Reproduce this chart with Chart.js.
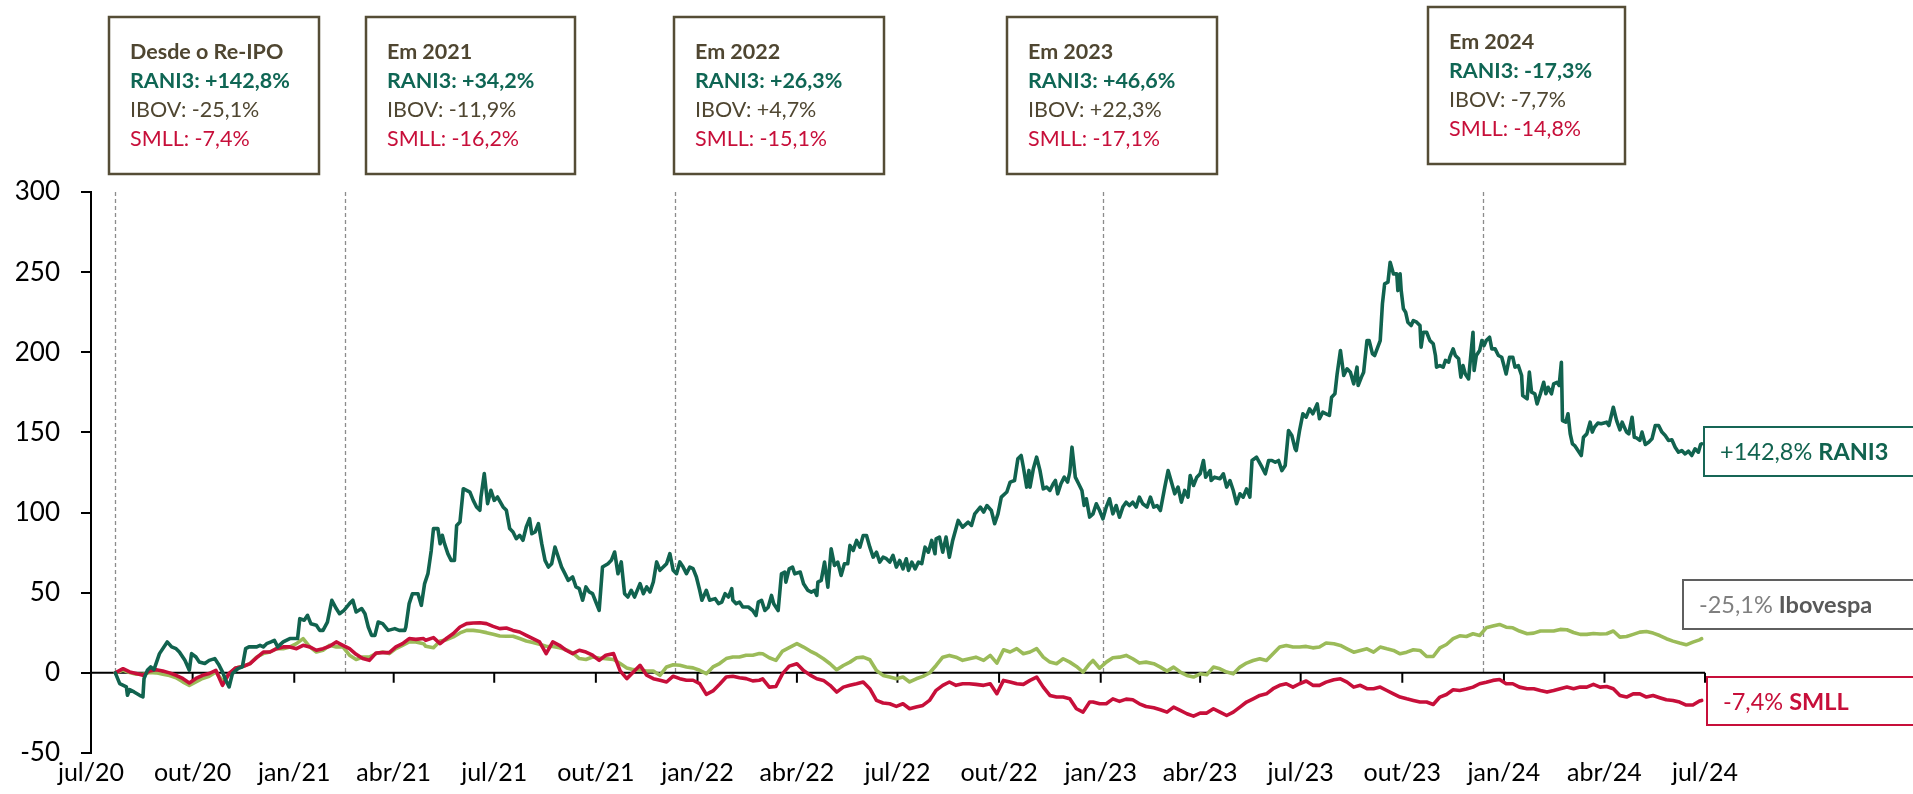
<!DOCTYPE html>
<html>
<head>
<meta charset="utf-8">
<script src="https://cdn.jsdelivr.net/npm/chart.js@4.4.1/dist/chart.umd.min.js"></script>
<style>
html,body{margin:0;padding:0;background:#ffffff;}
#wrap{width:1913px;height:794px;position:relative;}
canvas{display:block;}
</style>
</head>
<body>
<div id="wrap"><canvas id="chart" width="1913" height="794"></canvas></div>
<script>
// ---------- DATA (x = days since 2020-07-01, y = accumulated return in %) ----------
const tickLabels = ['jul/20','out/20','jan/21','abr/21','jul/21','out/21','jan/22','abr/22','jul/22',
  'out/22','jan/23','abr/23','jul/23','out/23','jan/24','abr/24','jul/24'];

const yTickValues = [-50, 0, 50, 100, 150, 200, 250, 300];

// RANI3: [day, return %]
const rani3Series = [
[22,0],[26,-6.7],[32,-8.7],[33,-14],[35,-10.5],[39,-11.9],[44,-14],[47,-15],[48,-3.6],[51,1.6],
[54,3.7],[57,2],[62,12],[69,19.3],[73,16.2],[77,15.1],[80,13],[85,7.8],[89,1.6],[91,12],
[95,9.9],[98,6.8],[103,5.8],[107,7.8],[112,8.9],[116,4.7],[119,0.6],[122,-4.6],[125,-8.8],[128,-0.5],
[133,2.6],[137,3.7],[140,15.1],[143,16.2],[150,16.2],[153,17.2],[156,16.2],[159,18.2],[163,19.3],[166,20.3],
[169,16.2],[174,19.3],[180,21.4],[187,21.4],[189,33.8],[193,32.8],[196,35.9],[199,30.7],[204,29.7],[207,26.5],
[210,26.5],[214,31.7],[218,45.3],[222,40.1],[225,36.9],[229,39],[234,43.2],[237,45.3],[240,38],[245,40.1],
[248,36.9],[251,28.6],[254,23.4],[257,23.4],[260,31.7],[264,30.7],[269,26.5],[275,27.6],[279,26.5],[284,26.5],
[285,28.6],[288,43.2],[291,49.4],[296,49.4],[299,42.1],[302,55.7],[305,61.9],[308,76.4],[310,90],[314,90],
[316,80.6],[318,85.8],[320,80.6],[323,74.4],[326,70.2],[329,70.2],[331,92],[334,94.1],[337,114.9],[340,113.9],
[343,112.8],[346,107.6],[349,103.5],[352,101.4],[353,109.7],[356,124.3],[359,105.6],[362,113.9],[365,107.6],[368,109.7],
[373,103.5],[376,101.4],[379,90],[382,87.9],[385,83.7],[388,85.8],[391,82.7],[394,91],[397,96.2],[399,86.8],
[402,87.9],[405,93.1],[408,80.6],[411,70.2],[414,66],[417,68.1],[420,78.5],[423,72.3],[426,66],[429,61.9],
[432,57.7],[436,59.8],[439,53.6],[442,52.5],[445,45.3],[448,53.6],[451,50.5],[454,49.4],[457,44.2],[460,39],
[463,66],[468,68.1],[471,70.2],[474,75.4],[477,61.9],[480,69.2],[483,49.4],[486,47.3],[489,51.5],[492,47.3],
[497,55.7],[500,49.4],[503,53.6],[506,50.5],[509,56.7],[512,69.2],[515,64],[518,66],[521,68.1],[524,74.4],
[527,64],[530,61.9],[533,69.2],[536,66],[539,61.9],[542,66],[545,65],[548,59.8],[551,51.5],[553,45.3],
[557,51.5],[560,45.3],[565,46.3],[568,43.2],[571,44.2],[574,49.4],[577,47.3],[580,52.5],[581,45.3],[584,43.2],
[587,44.2],[590,41.1],[595,41.1],[599,38.9],[602,35.8],[604,44.1],[607,45.2],[610,38.9],[613,41],[616,48.3],
[618,43.1],[622,38.9],[625,61.8],[628,62.9],[629,56.6],[632,64.9],[635,66],[637,61.8],[642,62.9],[645,55.6],
[649,51.4],[652,50.4],[655,51.4],[657,48.3],[658,56.6],[661,57.7],[664,69.1],[667,53.5],[670,77.4],[673,67],
[676,69.1],[679,60.8],[682,68.1],[685,68.1],[687,79.5],[690,76.4],[693,82.6],[696,78.4],[699,85.7],[702,85.7],
[705,78.4],[708,72.2],[711,75.3],[714,69.1],[717,72.2],[720,71.2],[723,69.1],[726,73.3],[729,66],[732,70.1],
[735,64.9],[738,71.2],[740,63.9],[743,69.1],[746,64.9],[749,69.1],[752,68.1],[755,78.4],[758,75.3],[761,82.6],
[764,74.3],[765,83.6],[768,84.7],[771,75.3],[774,84.7],[777,72.2],[780,82.6],[785,95.1],[789,90.9],[794,94],
[797,92],[800,99.2],[805,103.4],[808,100.3],[811,104.4],[815,101.3],[818,93],[821,99.2],[824,109.6],[829,112.8],
[832,119],[836,120],[839,133.5],[842,135.6],[844,128.3],[847,115.9],[849,126.3],[850,115.9],[853,127.3],[856,134.6],
[859,126.3],[862,114.8],[865,115.9],[868,113.8],[871,118],[873,120],[875,111.7],[878,118],[881,122.1],[884,119],
[886,125.2],[888,140.8],[891,122.1],[894,118],[897,113.8],[899,104.4],[901,108.6],[904,97.2],[907,99.2],[910,105.5],
[913,101.3],[916,96.1],[919,103.4],[922,108.6],[925,99.2],[928,104.4],[931,97.1],[934,103.4],[937,106.5],[940,104.4],
[943,106.5],[946,103.4],[949,109.6],[952,105.5],[956,103.4],[959,109.6],[962,103.4],[965,104.4],[968,101.3],[972,115.9],
[975,126.2],[978,119],[981,111.7],[984,115.9],[987,106.5],[990,113.8],[993,109.6],[995,123.1],[998,116.9],[1001,122.1],
[1004,124.2],[1007,132.5],[1009,122.1],[1013,126.2],[1014,120],[1017,122.1],[1022,121.1],[1025,124.2],[1028,115.9],[1031,120],
[1034,113.8],[1037,105.5],[1040,111.7],[1043,109.6],[1046,114.8],[1049,109.6],[1051,132.5],[1055,134.6],[1060,128.3],[1063,124.2],
[1066,132.5],[1069,132.5],[1072,131.4],[1075,132.5],[1078,126.2],[1081,129.4],[1084,151.2],[1087,148.1],[1090,139.8],[1091,138.7],
[1094,151.2],[1097,161.6],[1100,159.5],[1103,164.7],[1106,161.6],[1110,167.8],[1112,158.5],[1115,162.6],[1118,161.6],[1121,160.6],
[1123,172],[1126,174.1],[1128,186.5],[1131,201.1],[1134,185.5],[1137,189.7],[1140,187.6],[1143,180.3],[1146,190.7],[1147,179.3],
[1150,184.5],[1152,187.6],[1155,207.3],[1157,207.3],[1160,199],[1162,198],[1167,207.3],[1169,230.2],[1171,242.7],[1174,243.7],
[1176,256.2],[1179,248.9],[1182,248.9],[1183,238.5],[1185,248.9],[1186,238.5],[1188,227.1],[1190,225],[1192,218.8],[1195,216.7],
[1197,219.8],[1200,218.8],[1203,216.7],[1204,203.2],[1206,212.5],[1209,212.5],[1212,207.3],[1215,205.3],[1217,198],[1218,190.7],
[1221,191.7],[1224,190.7],[1226,194.9],[1229,193.8],[1230,196.9],[1233,202.1],[1235,198],[1238,195.9],[1240,184.5],[1242,191.7],
[1244,186.5],[1247,183.4],[1248,190.7],[1251,212.5],[1252,188.6],[1254,198],[1257,201.1],[1259,207.3],[1261,204.2],[1263,207.3],
[1266,209.4],[1268,202.1],[1271,202.1],[1274,198],[1277,196.9],[1279,191.7],[1281,186.5],[1284,196.9],[1287,196.9],[1289,190.7],
[1292,191.7],[1295,185.5],[1296,173],[1300,170.9],[1302,187.6],[1304,175.1],[1307,174.1],[1309,167.8],[1312,174.1],[1315,181.3],
[1317,174.1],[1319,178.2],[1322,174.1],[1324,180.3],[1327,181.3],[1329,179.3],[1331,193.8],[1332,157.4],[1335,156.4],[1337,161.6],
[1339,149.1],[1341,142.9],[1343,141.8],[1346,138.7],[1349,135.6],[1351,147],[1354,149.1],[1357,156.4],[1359,150.2],[1361,153.3],
[1364,155.8],[1367,155.4],[1372,156.4],[1374,154.3],[1378,165.7],[1381,157.4],[1384,151.6],[1386,156.4],[1390,150.2],[1392,149.1],
[1395,159.5],[1397,147],[1399,146.6],[1402,145],[1404,150.2],[1407,142.5],[1410,143.9],[1413,146],[1416,154.3],[1419,154.3],
[1422,150.2],[1425,148.1],[1428,145],[1431,145.4],[1434,140.8],[1437,137.7],[1440,138.7],[1443,136.6],[1446,138.3],[1449,135.6],
[1452,139.8],[1455,137.7],[1457,142.5],[1458,142.8]
];

// Ibovespa and SMLL share one date grid
const indexDays = [
22,29,35,41,47,53,59,65,71,77,83,89,95,101,107,113,119,125,131,138,144,150,156,162,168,174,180,186,192,198,
204,210,216,222,228,234,240,246,252,258,264,270,276,282,288,294,301,
303,310,316,322,328,334,340,346,352,358,364,370,376,382,388,394,400,406,412,418,424,430,436,442,448,454,460,466,473,479,
485,491,497,503,509,515,521,527,533,539,545,551,557,563,569,575,581,587,593,599,605,
608,614,620,626,632,639,645,651,657,663,669,675,681,687,693,699,705,711,717,723,729,735,741,747,753,759,765,771,777,783,
789,795,801,808,814,820,826,832,838,844,850,856,862,868,874,880,886,892,898,904,
907,913,919,925,931,937,943,949,955,962,968,974,980,986,992,998,1004,1010,1016,1022,1028,1034,1040,1046,1052,1058,1064,1070,1076,1082,
1088,1094,1100,1106,1112,1118,1125,1131,1137,1143,1149,1155,1161,1167,1173,1179,1185,1191,1197,1203,
1209,1215,1221,1227,1233,1239,1245,1251,1257,1263,1269,1275,1281,1287,1293,1300,1306,1312,1318,1324,
1330,1336,1342,1348,1354,1360,1366,1372,1378,1384,1390,1396,1402,1408,1414,1420,1426,1432,1438,1444,1450,1456,1458
];

const ibovValues = [
0,1.6,0.2,-0.9,-0.9,0.2,0,-0.9,-1.7,-3.1,-5.6,-7.8,-5.6,-3.5,-2.1,0.6,-5,-0.9,3.1,4.1,5.8,9.9,12,13,15.1,15.1,16.2,18.2,21.4,16.2,
13,14.1,17.2,16.2,16.2,11,8.3,9.9,9.9,12,13,12,15.1,17.2,19.3,19.3,18.2,
16.6,15.7,19.9,20.7,22.4,24.9,26.5,26.5,25.9,25.1,24.1,23,22.8,22.8,21.4,19.9,18.9,17.8,16.6,16.4,15.7,14.5,12.4,8.9,8.3,9.9,9.3,8.9,8.3,5.8,
3.1,2,1.8,1.2,1.2,-1.5,3.7,5.1,4.7,3.7,3.1,1.6,-0.5,3.7,5.8,8.9,9.9,9.9,11,11,12,
11.9,9.4,7.8,13.6,15.7,18.2,16.1,13.6,11.5,8.8,5.7,1.9,4.6,6.7,9.4,9.8,8.2,1.5,-1.6,-2.6,-3.7,-2.6,-5.7,-3.7,-2.2,-0.1,4.6,9.8,10.9,9.8,
7.8,8.8,9.8,7.8,10.9,6.1,14.4,13,15.1,11.9,13,15.1,9.8,6.7,5.7,8.8,6.7,4,0.5,5.7,
7.7,2.9,6.7,9.4,9.8,10.9,8.8,6.1,6.7,5.7,3.6,1.1,3.6,0.5,-1.6,-2.6,-0.6,-1.2,3.6,2.5,0.5,-0.6,3.6,6.1,7.7,8.8,7.7,11.9,16.1,17.1,
16.1,16.1,16.5,15.6,16.1,18.6,18.2,17.1,15,12.9,14,15,12.9,16.1,15,14,11.9,12.9,14.4,14,
10.2,10.2,15.6,17.7,21.3,23.1,22.7,24.4,23.3,28.1,29.2,30.2,28.5,28.1,26.1,24.4,24.8,26.1,26.1,26.1,
27.1,26.9,25.2,24,24,24.6,24.2,24.4,26.1,22.3,22.7,24,25.4,25.8,24.8,23.3,21.3,19.8,18.6,17.5,19.2,20.6,21.3
];

const smllValues = [
0,2.6,0.6,-0.4,-1.5,1.2,2,1.2,0,-1.5,-3.5,-6.3,-3.5,-1.5,-0.4,1.6,-7.8,-0.4,3.1,4.1,5.8,9.5,13,13,15.1,16.2,16.2,15.1,17.2,16.2,
14.1,15.1,16.6,19.3,17.2,15.1,11.6,8.9,7.8,12.4,12.6,12.6,16.2,18.2,21.4,20.9,21.4,
20.3,22,18.2,21.6,24.5,28.6,30.7,31.1,31.3,30.7,29,27.6,28,26.5,25.5,23.4,21.4,19.3,12,19.3,17.2,14.1,12,14.1,13,11,7.8,11,12,1.2,
-3.6,0.6,4.7,-1.5,-3.6,-4.6,-5.7,-2.1,-3.6,-4.6,-4.6,-6.7,-13.4,-11.3,-7.1,-2.6,-2.1,-3,-3.6,-5,-4.6,
-3.7,-8.9,-8.5,-0.5,4.2,5.7,1.5,-1.4,-3.7,-4.7,-7.8,-12,-8.9,-7.8,-6.8,-5.7,-9.9,-17.2,-18.8,-19.3,-20.9,-19.3,-22.4,-21.3,-20.3,-17.2,-10.9,-7.8,-5.7,-7.8,
-6.8,-6.8,-7.2,-7.8,-6.8,-13,-4.7,-5.7,-6.8,-7.2,-4.7,-2.6,-8.9,-14.1,-15.1,-15.1,-16.1,-22.4,-24.5,-18.2,
-18.2,-19.3,-19.3,-16.2,-17.8,-16.4,-16.8,-19.3,-21,-21.8,-23,-24.5,-21.4,-23.4,-25.5,-27,-25.1,-25.1,-22.4,-24.5,-26.6,-24.5,-21.4,-18.2,-16.2,-14.1,-13.1,-9.9,-7.8,-6.8,
-8.9,-6.8,-5.1,-7.8,-7.8,-5.8,-4.3,-3.7,-5.8,-8.9,-7.8,-9.9,-9.9,-8.9,-11,-13.1,-15.1,-16.2,-17.2,-18.2,
-18.2,-19.7,-15.1,-13.5,-10.5,-11,-10.1,-8.9,-6.8,-5.8,-4.7,-4.1,-6.8,-6.8,-8.9,-9.9,-9.9,-11,-12,-11,
-9.9,-8.9,-9.9,-8.9,-8.9,-7.2,-8.9,-8.5,-9.9,-14.1,-15.1,-13.1,-13.1,-15.1,-14.1,-15.5,-16.8,-17.2,-18.2,-20.1,-20.1,-17.6,-17.2
];

// vertical dashed period markers (days since 2020-07-01)
const markerDays = [22, 230, 529, 916, 1260];

// summary boxes text
const boxTitles = ['Desde o Re-IPO','Em 2021','Em 2022','Em 2023','Em 2024'];
const boxRani3 = ['RANI3: +142,8%','RANI3: +34,2%','RANI3: +26,3%','RANI3: +46,6%','RANI3: -17,3%'];
const boxIbov  = ['IBOV: -25,1%','IBOV: -11,9%','IBOV: +4,7%','IBOV: +22,3%','IBOV: -7,7%'];
const boxSmll  = ['SMLL: -7,4%','SMLL: -16,2%','SMLL: -15,1%','SMLL: -17,1%','SMLL: -14,8%'];

// end-of-line labels
const endValueText = ['+142,8%','-25,1%','-7,4%'];
const endNameText  = ['RANI3','Ibovespa','SMLL'];

// ---------- STYLE / LAYOUT ----------
const FONT = "Lato, 'DejaVu Sans', sans-serif";
const C_RANI = '#11634F', C_IBOV = '#9BBB59', C_SMLL = '#C70F3A';
const C_BOX = '#554D36', C_TITLE = '#4F4631';
const boxFrames = [[109,17,210,157],[366,17,209,157],[674,17,210,157],[1007,17,210,157],[1428,7,197,157]];
const endFrames = [[1704,427,49],[1683,580,49],[1707,677,48]];
const endStyles = [
  {border:'#176656', valueColor:'#11634F', nameColor:'#11634F'},
  {border:'#5F5F5F', valueColor:'#7F7F7F', nameColor:'#595959'},
  {border:'#C70F3A', valueColor:'#C70F3A', nameColor:'#C70F3A'}
];

const tickDays = tickLabels.map((_, k) =>
  Math.round((Date.UTC(2020, 6 + 3 * k, 1) - Date.UTC(2020, 6, 1)) / 864e5));

const overlayPlugin = {
  id: 'overlay',
  beforeDatasetsDraw(chart) {
    const {ctx, chartArea, scales: {x, y}} = chart;
    const y0 = y.getPixelForValue(0);
    ctx.save();
    // dashed markers
    ctx.setLineDash([4, 3]);
    ctx.strokeStyle = '#8C8C8C';
    ctx.lineWidth = 1.3;
    markerDays.forEach(d => {
      const px = Math.round(x.getPixelForValue(d)) + 0.5;
      ctx.beginPath();
      ctx.moveTo(px, y.getPixelForValue(yTickValues[yTickValues.length - 1]));
      ctx.lineTo(px, y0);
      ctx.stroke();
    });
    ctx.setLineDash([]);
    // horizontal axis line at zero with tick marks
    ctx.strokeStyle = '#000';
    ctx.lineWidth = 2;
    ctx.beginPath();
    ctx.moveTo(chartArea.left, y0);
    ctx.lineTo(chartArea.right, y0);
    tickDays.forEach(d => {
      const px = x.getPixelForValue(d);
      ctx.moveTo(px, y0);
      ctx.lineTo(px, y0 + 10);
    });
    ctx.stroke();
    ctx.restore();
  },
  afterDraw(chart) {
    const ctx = chart.ctx;
    ctx.save();
    // summary boxes
    boxFrames.forEach((f, i) => {
      const [bx, by, bw, bh] = f;
      ctx.fillStyle = '#fff';
      ctx.fillRect(bx, by, bw, bh);
      ctx.strokeStyle = C_BOX;
      ctx.lineWidth = 2.5;
      ctx.strokeRect(bx, by, bw, bh);
      const tx = bx + 21;
      const ty = by + 35.5;
      const lh = 28.7;
      ctx.textBaseline = 'middle';
      ctx.textAlign = 'left';
      ctx.font = `bold 21.5px ${FONT}`;
      ctx.fillStyle = C_TITLE;
      ctx.fillText(boxTitles[i], tx, ty);
      ctx.fillStyle = '#0F6654';
      ctx.fillText(boxRani3[i], tx, ty + lh);
      ctx.font = `21.5px ${FONT}`;
      ctx.fillStyle = C_TITLE;
      ctx.fillText(boxIbov[i], tx, ty + 2 * lh);
      ctx.fillStyle = C_SMLL;
      ctx.fillText(boxSmll[i], tx, ty + 3 * lh);
    });
    // end labels
    endFrames.forEach((f, i) => {
      const [bx, by, bh] = f;
      const st = endStyles[i];
      ctx.fillStyle = '#fff';
      ctx.fillRect(bx, by, 1930 - bx, bh);
      ctx.strokeStyle = st.border;
      ctx.lineWidth = 2;
      ctx.strokeRect(bx, by, 1930 - bx, bh);
      const tx = bx + 16;
      const ty = by + bh / 2 + 1;
      ctx.textBaseline = 'middle';
      ctx.textAlign = 'left';
      ctx.font = `23.5px ${FONT}`;
      ctx.fillStyle = st.valueColor;
      const v = endValueText[i] + ' ';
      ctx.fillText(v, tx, ty);
      const w = ctx.measureText(v).width;
      ctx.font = `bold 23.5px ${FONT}`;
      ctx.fillStyle = st.nameColor;
      ctx.fillText(endNameText[i], tx + w, ty);
    });
    ctx.restore();
  }
};

const lineStyle = {pointRadius: 0, borderWidth: 3.6, tension: 0, borderJoinStyle: 'round', borderCapStyle: 'round', fill: false};

new Chart(document.getElementById('chart'), {
  type: 'line',
  data: {
    datasets: [
      Object.assign({label: 'RANI3', data: rani3Series.map(p => ({x: p[0], y: p[1]})), borderColor: C_RANI}, lineStyle),
      Object.assign({label: 'SMLL', data: indexDays.map((d, i) => ({x: d, y: smllValues[i]})), borderColor: C_SMLL}, lineStyle),
      Object.assign({label: 'IBOV', data: indexDays.map((d, i) => ({x: d, y: ibovValues[i]})), borderColor: C_IBOV}, lineStyle)
    ]
  },
  options: {
    responsive: false,
    devicePixelRatio: 1,
    animation: false,
    layout: {padding: {top: 192, right: 208, bottom: 0, left: 0}},
    plugins: {legend: {display: false}, tooltip: {enabled: false}},
    scales: {
      x: {
        type: 'linear',
        min: tickDays[0],
        max: tickDays[tickDays.length - 1],
        afterBuildTicks: s => { s.ticks = tickDays.map(v => ({value: v})); },
        afterFit: s => { s.height = 41; },
        grid: {display: false, drawTicks: false},
        border: {display: false},
        ticks: {
          autoSkip: false, maxRotation: 0, minRotation: 0, padding: 5,
          color: '#000', font: {family: FONT, size: 25},
          callback: v => tickLabels[tickDays.indexOf(v)]
        }
      },
      y: {
        min: yTickValues[0],
        max: yTickValues[yTickValues.length - 1],
        afterBuildTicks: s => { s.ticks = yTickValues.map(v => ({value: v})); },
        afterFit: s => { s.width = 91; },
        grid: {drawOnChartArea: false, drawTicks: true, tickLength: 10, color: '#000', lineWidth: 2},
        border: {display: true, color: '#000', width: 2},
        ticks: {padding: 21, color: '#000', font: {family: FONT, size: 26}}
      }
    }
  },
  plugins: [overlayPlugin]
});
</script>
</body>
</html>
